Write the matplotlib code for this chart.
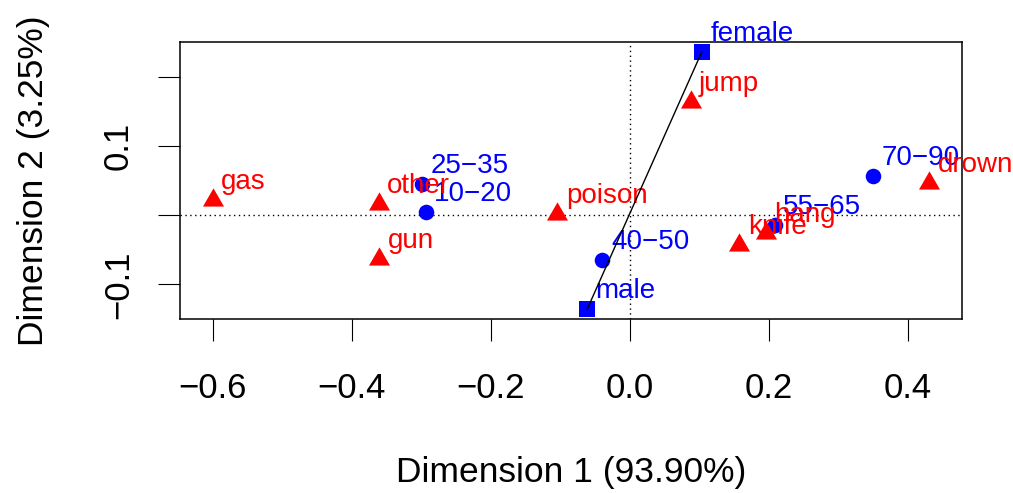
import matplotlib
matplotlib.use("Agg")
import matplotlib.pyplot as plt
import numpy as np

plt.rcParams['font.family'] = ['Liberation Sans', 'DejaVu Sans']

# row points (age groups)
row_names = ["10\u221220", "25\u221235", "40\u221250", "55\u221265", "70\u221290"]
row_x = [-0.293, -0.298, -0.039, 0.209, 0.350]
row_y = [0.004, 0.045, -0.065, -0.014, 0.057]

# supplementary rows (sex)
sup_names = ["male", "female"]
sup_x = [-0.061, 0.104]
sup_y = [-0.136, 0.236]

# column points (method)
col_names = ["poison", "gas", "hang", "drown", "gun", "knife", "jump", "other"]
col_x = [-0.104, -0.600, 0.196, 0.431, -0.360, 0.158, 0.088, -0.361]
col_y = [0.002, 0.022, -0.026, 0.046, -0.063, -0.043, 0.164, 0.016]

dim1 = 93.90
dim2 = 3.25

W, H = 1013, 493
fig = plt.figure(figsize=(W / 100, H / 100), dpi=100)
ax = fig.add_axes([180 / W, 1 - 319 / H, 782 / W, 277 / H])

# equilateral triangle like R's pch 17, centred on its centroid
tri = [(-1, -0.5774), (1, -0.5774), (0, 1.1547)]
lab_off = (6.1, 7.9)
blue = '#0000FF'
red = '#FF0000'

ax.axhline(0, color='black', lw=1.0, ls=(0, (1, 2.5)), zorder=1)
ax.axvline(0, color='black', lw=1.0, ls=(0, (1, 2.5)), zorder=1)

ax.plot(row_x, row_y, 'o', color=blue, ms=11.2, mew=0, ls='none', zorder=2)
for n, x, y in zip(row_names, row_x, row_y):
    ax.annotate(n, (x, y), xytext=lab_off, textcoords='offset points',
                color=blue, fontsize=20, va='baseline', ha='left', zorder=3)

ax.plot(sup_x, sup_y, 's', color=blue, ms=12, mew=0, ls='none', zorder=2)
for n, x, y in zip(sup_names, sup_x, sup_y):
    ax.annotate(n, (x, y), xytext=lab_off, textcoords='offset points',
                color=blue, fontsize=20, va='baseline', ha='left', zorder=3,
                annotation_clip=False)

ax.plot(col_x, col_y, marker=tri, color=red, ms=17.5, mew=0, ls='none', zorder=4)
for n, x, y in zip(col_names, col_x, col_y):
    ax.annotate(n, (x, y), xytext=lab_off, textcoords='offset points',
                color=red, fontsize=20, va='baseline', ha='left', zorder=5,
                annotation_clip=False)

# line joining male and female
ax.plot(sup_x, sup_y, color='black', lw=1.0, zorder=6)

ax.set_xlim(-0.6468, 0.4784)
ax.set_ylim(-0.150, 0.2503)

ax.set_xticks([-0.6, -0.4, -0.2, 0.0, 0.2, 0.4])
ax.set_xticklabels(["\u22120.6", "\u22120.4", "\u22120.2", "0.0", "0.2", "0.4"])
ax.set_yticks([-0.1, 0.0, 0.1, 0.2])
ax.set_yticklabels(["\u22120.1", "", "0.1", ""], rotation=90, va='center')

ax.tick_params(axis='x', length=16, width=0.8, pad=22.5, labelsize=25)
ax.tick_params(axis='y', length=16, width=0.8, pad=16.5, labelsize=25)
for s in ax.spines.values():
    s.set_linewidth(1.1)

fig.text(571 / W, 1 - 481.7 / H, "Dimension 1 (%.2f%%)" % dim1, fontsize=25.5,
         ha='center', va='baseline')
fig.text(42.7 / W, 1 - 180.5 / H, "Dimension 2 (%.2f%%)" % dim2, fontsize=25.5,
         ha='center', va='baseline', rotation=90, rotation_mode='anchor')

fig.savefig("out.png", dpi=100)
